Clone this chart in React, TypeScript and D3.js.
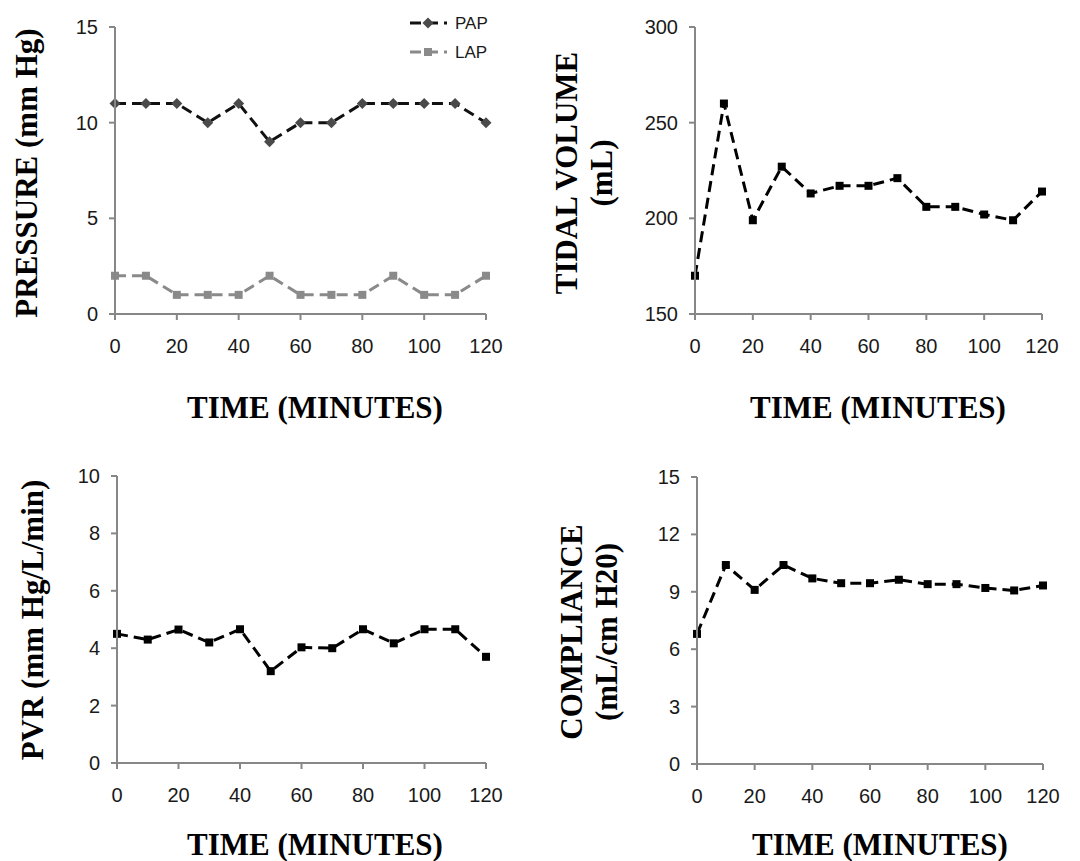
import React from "react";
import * as d3 from "d3";

const times = [0, 10, 20, 30, 40, 50, 60, 70, 80, 90, 100, 110, 120];
const xTicks = [0, 20, 40, 60, 80, 100, 120];

const papValues = [11, 11, 11, 10, 11, 9, 10, 10, 11, 11, 11, 11, 10];
const lapValues = [2, 2, 1, 1, 1, 2, 1, 1, 1, 2, 1, 1, 2];
const pressureTicks = [0, 5, 10, 15];

const tidalValues = [170, 260, 199, 227, 213, 217, 217, 221, 206, 206, 202, 199, 214];
const tidalTicks = [150, 200, 250, 300];

const pvrValues = [4.5, 4.3, 4.65, 4.2, 4.66, 3.2, 4.03, 4.0, 4.66, 4.17, 4.66, 4.66, 3.7];
const pvrTicks = [0, 2, 4, 6, 8, 10];

const complianceValues = [6.8, 10.4, 9.1, 10.4, 9.7, 9.45, 9.45, 9.63, 9.4, 9.4, 9.2, 9.07, 9.33];
const complianceTicks = [0, 3, 6, 9, 12, 15];

const AXIS = "#878787";
const TICKFONT = "Liberation Sans, Arial, sans-serif";
const TITLEFONT = "Liberation Serif, Times New Roman, serif";

type Series = { values: number[]; line: string; marker: string; shape: "square" | "diamond" };

function Marker({ x, y, shape, color }: { x: number; y: number; shape: string; color: string }) {
  if (shape === "diamond") {
    const r = 5.5;
    return <path d={`M${x},${y - r}L${x + r},${y}L${x},${y + r}L${x - r},${y}Z`} fill={color} />;
  }
  const s = 8;
  return <rect x={x - s / 2} y={y - s / 2} width={s} height={s} fill={color} />;
}

function Panel(props: {
  x0: number; x1: number; yTop: number; yBottom: number;
  domain: [number, number]; yTicks: number[]; series: Series[];
  titleLines: { text: string; x: number }[]; titleCy: number;
  xTitleCx: number; xTitleBaseline: number;
}) {
  const x = d3.scaleLinear().domain([0, 120]).range([props.x0, props.x1]);
  const y = d3.scaleLinear().domain(props.domain).range([props.yBottom, props.yTop]);
  return (
    <g>
      {props.series.map((s, i) => {
        const line = d3.line<number>().x((_, j) => x(times[j])).y((v) => y(v));
        return (
          <g key={i}>
            <path d={line(s.values) || ""} fill="none" stroke={s.line} strokeWidth={3} strokeDasharray="11,6" />
            {s.values.map((v, j) => (
              <Marker key={j} x={x(times[j])} y={y(v)} shape={s.shape} color={s.marker} />
            ))}
          </g>
        );
      })}
      <line x1={props.x0} x2={props.x0} y1={props.yTop} y2={props.yBottom} stroke={AXIS} strokeWidth={2} />
      <line x1={props.x0 - 5} x2={props.x1} y1={props.yBottom} y2={props.yBottom} stroke={AXIS} strokeWidth={2} />
      {props.yTicks.map((t) => (
        <g key={"y" + t}>
          <line x1={props.x0 - 6} x2={props.x0} y1={y(t)} y2={y(t)} stroke={AXIS} strokeWidth={2} />
          <text x={props.x0 - 17} y={y(t) + 7} textAnchor="end" fontFamily={TICKFONT} fontSize={20} fill="#1a1a1a">
            {t}
          </text>
        </g>
      ))}
      {xTicks.map((t) => (
        <g key={"x" + t}>
          <line x1={x(t)} x2={x(t)} y1={props.yBottom} y2={props.yBottom + 6} stroke={AXIS} strokeWidth={2} />
          <text x={x(t)} y={props.yBottom + 39} textAnchor="middle" fontFamily={TICKFONT} fontSize={20} fill="#1a1a1a">
            {t}
          </text>
        </g>
      ))}
      {props.titleLines.map((l, i) => (
        <text key={i} transform={`translate(${l.x},${props.titleCy}) rotate(-90)`} textAnchor="middle"
          fontFamily={TITLEFONT} fontWeight="bold" fontSize={31} fill="#000">
          {l.text}
        </text>
      ))}
      <text x={props.xTitleCx} y={props.xTitleBaseline} textAnchor="middle" fontFamily={TITLEFONT}
        fontWeight="bold" fontSize={31} fill="#000">
        TIME (MINUTES)
      </text>
    </g>
  );
}

export default function App() {
  return (
    <svg width={1080} height={861} style={{ position: "absolute", left: 0, top: 0, background: "#fff" }}>
      <rect width={1080} height={861} fill="#fff" />
      <Panel x0={115} x1={486} yTop={27} yBottom={314} domain={[0, 15]} yTicks={pressureTicks}
        series={[
          { values: papValues, line: "#111", marker: "#4a4a4a", shape: "diamond" },
          { values: lapValues, line: "#8a8a8a", marker: "#8a8a8a", shape: "square" },
        ]}
        titleLines={[{ text: "PRESSURE (mm Hg)", x: 37 }]} titleCy={173}
        xTitleCx={315} xTitleBaseline={418} />
      <g>
        <line x1={410} x2={447} y1={23} y2={23} stroke="#111" strokeWidth={3} strokeDasharray="11,6" />
        <Marker x={428} y={23} shape="diamond" color="#4a4a4a" />
        <text x={455} y={29} fontFamily={TICKFONT} fontSize={17} fill="#1a1a1a">PAP</text>
        <line x1={410} x2={447} y1={52} y2={52} stroke="#8a8a8a" strokeWidth={3} strokeDasharray="11,6" />
        <Marker x={428} y={52} shape="square" color="#8a8a8a" />
        <text x={455} y={58} fontFamily={TICKFONT} fontSize={17} fill="#1a1a1a">LAP</text>
      </g>
      <Panel x0={695} x1={1042} yTop={27} yBottom={314} domain={[150, 300]} yTicks={tidalTicks}
        series={[{ values: tidalValues, line: "#000", marker: "#000", shape: "square" }]}
        titleLines={[{ text: "TIDAL VOLUME", x: 577 }, { text: "(mL)", x: 612 }]} titleCy={173}
        xTitleCx={878} xTitleBaseline={418} />
      <Panel x0={117} x1={486} yTop={476} yBottom={763} domain={[0, 10]} yTicks={pvrTicks}
        series={[{ values: pvrValues, line: "#000", marker: "#000", shape: "square" }]}
        titleLines={[{ text: "PVR (mm Hg/L/min)", x: 43 }]} titleCy={620}
        xTitleCx={315} xTitleBaseline={855} />
      <Panel x0={697} x1={1043} yTop={477} yBottom={764} domain={[0, 15]} yTicks={complianceTicks}
        series={[{ values: complianceValues, line: "#000", marker: "#000", shape: "square" }]}
        titleLines={[{ text: "COMPLIANCE", x: 582 }, { text: "(mL/cm H20)", x: 617 }]} titleCy={632}
        xTitleCx={880} xTitleBaseline={855} />
    </svg>
  );
}
